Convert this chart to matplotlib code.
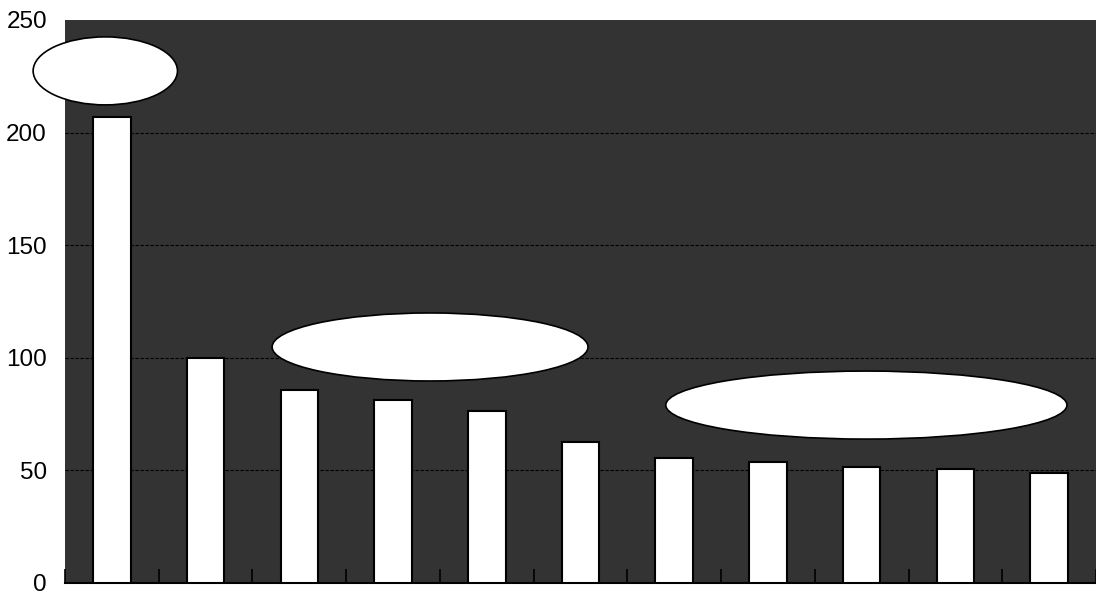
import matplotlib
matplotlib.use('Agg')
import matplotlib.pyplot as plt
from matplotlib.patches import Ellipse

plt.rcParams['font.family'] = ['Liberation Sans', 'DejaVu Sans']

# bar heights
values = [207, 100, 85.5, 81.3, 76.5, 62.8, 55.6, 53.8, 51.6, 50.8, 48.8]
yticks = [0, 50, 100, 150, 200, 250]

fig = plt.figure(figsize=(10.96, 5.95), dpi=100)
ax = fig.add_axes([0.0593, 0.0202, 0.9407, 0.9462])
ax.set_facecolor('#333333')

x = list(range(len(values)))
ax.bar(x, values, width=0.4, color='white', edgecolor='black', linewidth=1.5, zorder=3)

ax.set_xlim(-0.5, len(values) - 0.5)
ax.set_ylim(0, 250)
ax.set_yticks(yticks)
ax.set_yticklabels([str(v) for v in yticks], fontsize=17.5)
ax.tick_params(axis='y', length=0, pad=13)

# category boundary ticks, pointing inward
ax.set_xticks([i - 0.5 for i in range(len(values) + 1)])
ax.set_xticklabels([])
ax.tick_params(axis='x', direction='in', length=10, width=1.2, color='black')

for v in yticks[1:-1]:
    ax.axhline(v, color='black', linestyle=(0, (3, 1.5)), linewidth=0.8, zorder=1)

for s in ['top', 'right', 'left']:
    ax.spines[s].set_visible(False)
ax.spines['bottom'].set_color('black')
ax.spines['bottom'].set_linewidth(1.5)

# white call-out ellipses
ells = [(-0.07, 227.4, 1.54, 30.2), (3.395, 104.8, 3.37, 30.2), (8.05, 79.0, 4.28, 30.2)]
for cx, cy, w, h in ells:
    e = Ellipse((cx, cy), w, h, facecolor='white', edgecolor='black', linewidth=1.2,
                zorder=5, clip_on=False)
    ax.add_patch(e)

fig.savefig('out.png', dpi=100)
